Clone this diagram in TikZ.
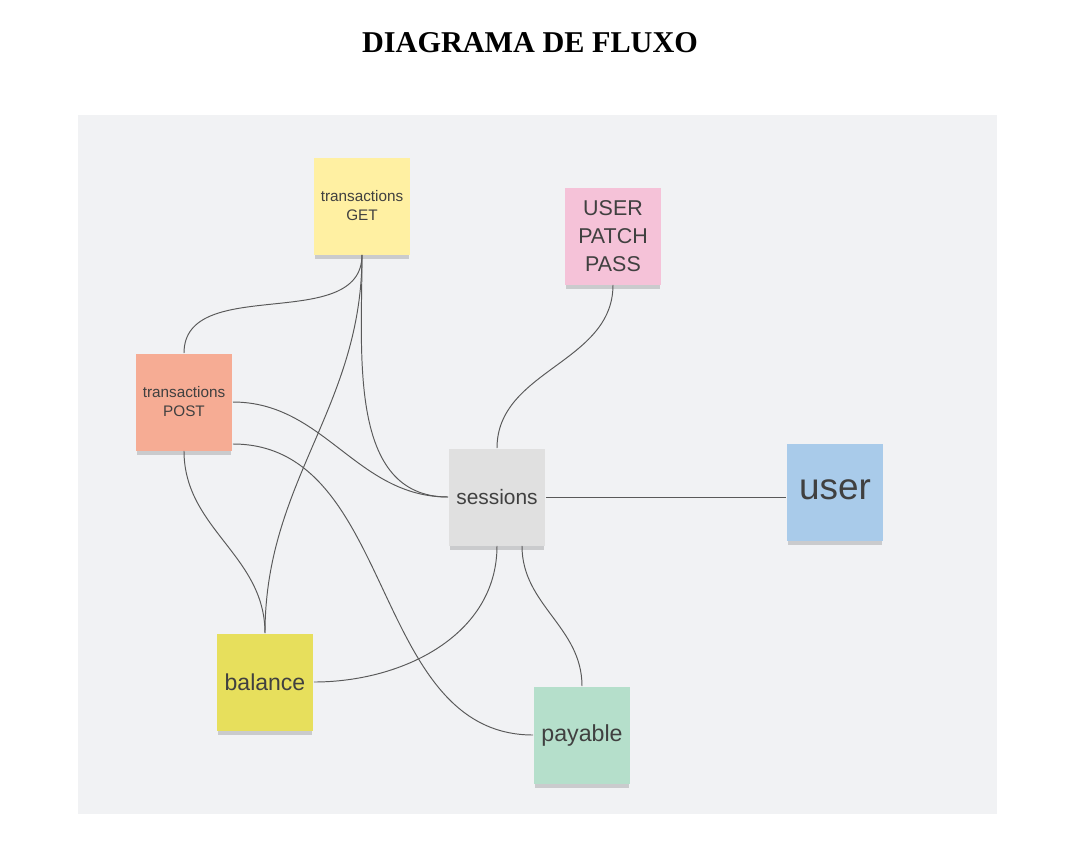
\documentclass[tikz,border=0pt]{standalone}
\usepackage{fontspec}
\setmainfont{Liberation Serif}
\newfontfamily\notefont{Liberation Sans}
\usetikzlibrary{shadows,positioning}
\definecolor{panel}{HTML}{F1F2F4}
\definecolor{cget}{HTML}{FFF0A2}
\definecolor{cpost}{HTML}{F6AC94}
\definecolor{cpatch}{HTML}{F5C2D8}
\definecolor{csess}{HTML}{E0E0E0}
\definecolor{cuser}{HTML}{A9CBEA}
\definecolor{cbal}{HTML}{E7DF5C}
\definecolor{cpay}{HTML}{B5DFCB}
\tikzstyle{note} = [rectangle,inner sep=0,minimum size=1.94cm,align=center,text=black!75,
  drop shadow={shadow xshift=0pt,shadow yshift=-0.13cm,shadow scale=0.97,opacity=.3,fill=black!55}]
\tikzstyle{link} = [draw=black!65,line width=0.55pt]
\def \sm {\notefont\fontsize{8.7pt}{10.8pt}\selectfont}

\begin{document}
\begin{tikzpicture}[x=0.02cm,y=-0.02cm]
  \useasboundingbox (0,0) rectangle (1069,867);
  \fill[panel] (78,115) rectangle (997,814);
  \node[font=\bfseries\fontsize{17.2pt}{21pt}\selectfont] (title) at (530,43) {DIAGRAMA DE FLUXO};
  % sticky notes
  \node[note,fill=cget,font=\sm] (tget) at (362,206) {transactions\\GET};
  \node[note,fill=cpatch,font=\notefont\fontsize{12.2pt}{16pt}\selectfont] (patch) at (613,236) {USER\\PATCH\\PASS};
  \node[note,fill=cpost,font=\sm] (tpost) at (184,402) {transactions\\POST};
  \node[note,fill=csess,font=\notefont\fontsize{11.9pt}{14pt}\selectfont] (sess) at (497,497) {sessions};
  \node[note,fill=cuser,font=\notefont\fontsize{21pt}{24pt}\selectfont] (usr) at (835,492) {\raisebox{3pt}{user}};
  \node[note,fill=cbal,font=\notefont\fontsize{13.1pt}{15pt}\selectfont] (bal) at (265,682) {balance};
  \node[note,fill=cpay,font=\notefont\fontsize{13.2pt}{15pt}\selectfont] (pay) at (582,735) {payable};
  % connectors
  \draw[link] (tget.south) to[out=-90,in=90] (tpost.north);
  \draw[link] (tget.south) to[out=-90,in=90] (bal.north);
  \draw[link] (tget.south) to[out=-90,in=180] (sess.west);
  \draw[link] (tpost.east) to[out=0,in=180] (sess.west);
  \draw[link] (tpost.south) to[out=-90,in=90] (bal.north);
  \draw[link] ([yshift=-0.84cm]tpost.east) to[out=0,in=180] (pay.west);
  \draw[link] (patch.south) to[out=-90,in=90] (sess.north);
  \draw[link] (sess.east) -- (sess.east -| usr.west);
  \draw[link] (sess.south) to[out=-90,in=0] (bal.east);
  \draw[link] ([xshift=0.5cm]sess.south) to[out=-90,in=90] (pay.north);
\end{tikzpicture}
\end{document}
